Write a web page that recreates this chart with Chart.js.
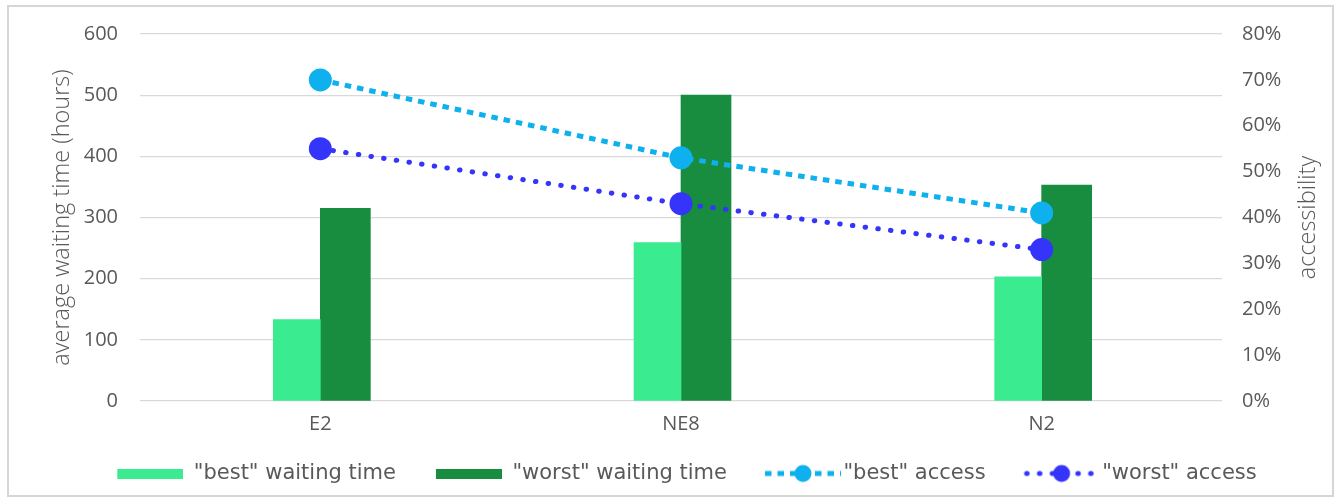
<!DOCTYPE html>
<html>
<head>
<meta charset="utf-8">
<script src="https://cdn.jsdelivr.net/npm/chart.js@4.4.1/dist/chart.umd.min.js"></script>
<style>
  html, body { margin: 0; padding: 0; background: #ffffff; overflow: hidden; }
  #wrap { position: relative; width: 1336px; height: 497px; }
</style>
</head>
<body>
<div id="wrap"><canvas id="c"></canvas></div>
<script>
// Sites on the x axis
const categories = ['E2', 'NE8', 'N2'];

// Average waiting time in hours (left axis)
const bestWaiting = [133, 259, 203];
const worstWaiting = [315, 500, 353];

// Accessibility as a fraction (right axis)
const bestAccess = [0.70, 0.53, 0.41];
const worstAccess = [0.55, 0.43, 0.33];

// Axis ranges: [min, max, step]
const waitingRange = [0, 600, 100];
const accessRange = [0, 0.8, 0.1];

// Series names
const seriesNames = ['"best" waiting time', '"worst" waiting time', '"best" access', '"worst" access'];

const COLORS = {
  bestBar: '#3aec8f',
  worstBar: '#188c3f',
  bestLine: '#0fb0ee',
  worstLine: '#3434fb',
  text: '#595959',
  grid: '#d9d9d9'
};

const TICK_FONT = { family: '"Open Sans", "DejaVu Sans", sans-serif', size: 20 };
const TITLE_FONT = { family: '"Open Sans", "DejaVu Sans", sans-serif', size: 23.5, weight: '300' };
const LEGEND_FONT = { family: '"DejaVu Sans", sans-serif', size: 21 };

const BEST_DASH = [6.5, 6];
const WORST_DASH = [0.5, 12.3];

// Legend symbols drawn on small canvases
function barSymbol(color) {
  const c = document.createElement('canvas');
  c.width = 92; c.height = 10;
  const g = c.getContext('2d');
  g.fillStyle = color;
  g.fillRect(26, 0, 66, 10);
  return c;
}
function lineSymbol(color, dash, round) {
  const c = document.createElement('canvas');
  c.width = 108; c.height = 20;
  const g = c.getContext('2d');
  g.strokeStyle = color;
  g.lineWidth = 5;
  g.lineCap = round ? 'round' : 'butt';
  g.setLineDash(dash);
  g.beginPath();
  g.moveTo(round ? 35 : 32, 10);
  g.lineTo(108, 10);
  g.stroke();
  g.setLineDash([]);
  g.fillStyle = color;
  g.beginPath();
  g.arc(70, 10, 8.5, 0, Math.PI * 2);
  g.fill();
  return c;
}
const legendSymbols = [
  barSymbol(COLORS.bestBar),
  barSymbol(COLORS.worstBar),
  lineSymbol(COLORS.bestLine, BEST_DASH, false),
  lineSymbol(COLORS.worstLine, WORST_DASH, true)
];

// Outer frame around the chart
const framePlugin = {
  id: 'frame',
  beforeDraw(chart) {
    const ctx = chart.ctx;
    ctx.save();
    ctx.fillStyle = '#ffffff';
    ctx.fillRect(0, 0, chart.width, chart.height);
    ctx.strokeStyle = '#d6d6d6';
    ctx.lineWidth = 2;
    ctx.strokeRect(8, 6, 1325, 490);
    ctx.restore();
  }
};

// Right axis title, reading bottom to top
const rightTitlePlugin = {
  id: 'rightTitle',
  afterDraw(chart) {
    const ctx = chart.ctx;
    const area = chart.chartArea;
    ctx.save();
    ctx.translate(area.right + 86, (area.top + area.bottom) / 2);
    ctx.rotate(-Math.PI / 2);
    ctx.textAlign = 'center';
    ctx.textBaseline = 'middle';
    ctx.fillStyle = COLORS.text;
    ctx.font = `${TITLE_FONT.weight} ${TITLE_FONT.size}px ${TITLE_FONT.family}`;
    ctx.fillText('accessibility', 0, 0);
    ctx.restore();
  }
};

new Chart(document.getElementById('c'), {
  data: {
    labels: categories,
    datasets: [
      {
        type: 'bar',
        label: seriesNames[0],
        data: bestWaiting,
        backgroundColor: COLORS.bestBar,
        barThickness: 47,
        yAxisID: 'y',
        order: 1
      },
      {
        type: 'bar',
        label: seriesNames[1],
        data: worstWaiting,
        backgroundColor: COLORS.worstBar,
        barThickness: 50,
        yAxisID: 'y',
        order: 1
      },
      {
        type: 'line',
        label: seriesNames[2],
        data: bestAccess,
        borderColor: COLORS.bestLine,
        backgroundColor: COLORS.bestLine,
        borderWidth: 5,
        borderDash: BEST_DASH,
        borderCapStyle: 'butt',
        pointRadius: 11.5,
        pointBorderWidth: 0,
        pointBackgroundColor: COLORS.bestLine,
        fill: false,
        tension: 0,
        yAxisID: 'y1',
        order: 0
      },
      {
        type: 'line',
        label: seriesNames[3],
        data: worstAccess,
        borderColor: COLORS.worstLine,
        backgroundColor: COLORS.worstLine,
        borderWidth: 5,
        borderDash: WORST_DASH,
        borderCapStyle: 'round',
        pointRadius: 11.5,
        pointBorderWidth: 0,
        pointBackgroundColor: COLORS.worstLine,
        fill: false,
        tension: 0,
        yAxisID: 'y1',
        order: 0
      }
    ]
  },
  options: {
    responsive: true,
    maintainAspectRatio: false,
    animation: false,
    layout: { padding: { left: 16, right: 4, top: 32, bottom: 3 } },
    plugins: {
      tooltip: { enabled: false },
      legend: {
        position: 'bottom',
        labels: {
          usePointStyle: true,
          pointStyleWidth: 92,
          boxHeight: 20,
          padding: 14,
          color: COLORS.text,
          font: LEGEND_FONT,
          generateLabels(chart) {
            return chart.data.datasets.map((ds, i) => ({
              text: ds.label,
              pointStyle: legendSymbols[i],
              fillStyle: 'transparent',
              strokeStyle: 'transparent',
              lineWidth: 0,
              fontColor: COLORS.text,
              datasetIndex: i,
              hidden: false
            }));
          }
        }
      }
    },
    scales: {
      x: {
        grid: { display: false, drawTicks: false },
        border: { display: false },
        ticks: { color: COLORS.text, font: TICK_FONT, padding: 11 },
        afterFit(scale) { scale.height = 48; }
      },
      y: {
        position: 'left',
        min: waitingRange[0],
        max: waitingRange[1],
        ticks: { stepSize: waitingRange[2], color: COLORS.text, font: TICK_FONT, padding: 22 },
        grid: { color: COLORS.grid, lineWidth: 1.3, drawTicks: false },
        border: { display: false },
        title: {
          display: true,
          text: 'average waiting time (hours)',
          color: COLORS.text,
          font: TITLE_FONT,
          padding: { top: 32, bottom: 0 }
        },
        afterFit(scale) { scale.width = 124; }
      },
      y1: {
        position: 'right',
        min: accessRange[0],
        max: accessRange[1],
        ticks: {
          stepSize: accessRange[2],
          color: COLORS.text,
          font: TICK_FONT,
          padding: 20,
          callback: (v) => Math.round(v * 100) + '%'
        },
        grid: { display: false, drawTicks: false },
        border: { display: false },
        afterFit(scale) { scale.width = 110; }
      }
    }
  },
  plugins: [framePlugin, rightTitlePlugin]
});
</script>
</body>
</html>
